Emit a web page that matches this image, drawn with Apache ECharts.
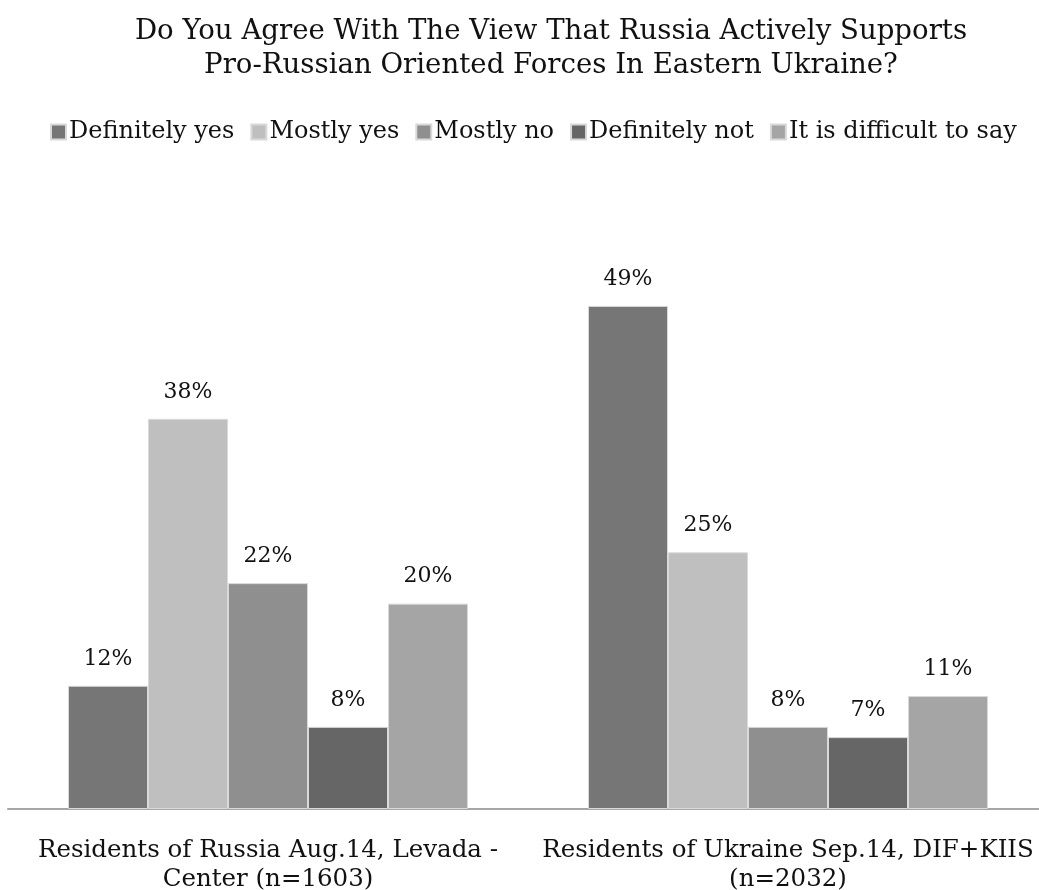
<!DOCTYPE html>
<html>
<head>
<meta charset="utf-8">
<script src="https://cdn.jsdelivr.net/npm/echarts@6/dist/echarts.min.js"></script>
<style>
html,body{margin:0;padding:0;background:#fff;}
#chart{width:1039px;height:890px;}
</style>
</head>
<body>
<div id="chart"></div>
<script>
const titleText = "Do You Agree With The View That Russia Actively Supports\nPro-Russian Oriented Forces In Eastern Ukraine?";
const categories = ["Residents of Russia Aug.14, Levada -\nCenter (n=1603)", "Residents of Ukraine Sep.14, DIF+KIIS\n(n=2032)"];
const seriesNames = ["Definitely yes", "Mostly yes", "Mostly no", "Definitely not", "It is difficult to say"];
const definitelyYes = [12, 49];
const mostlyYes = [38, 25];
const mostlyNo = [22, 8];
const definitelyNot = [8, 7];
const difficult = [20, 11];
const colors = ["#767676", "#bfbfbf", "#8f8f8f", "#666666", "#a5a5a5"];

const allValues = [definitelyYes, mostlyYes, mostlyNo, definitelyNot, difficult];
const serifA = "'DejaVu Serif', serif";

const chart = echarts.init(document.getElementById('chart'), null, {renderer: 'canvas'});
chart.setOption({
  animation: false,
  backgroundColor: '#ffffff',
  title: {
    text: titleText,
    left: 551,
    top: 15,
    padding: 0,
    textAlign: 'center',
    textStyle: {fontFamily: serifA, fontSize: 27.6, fontWeight: 'normal', color: '#111', lineHeight: 34}
  },
  legend: {
    top: 115,
    left: 45,
    itemWidth: 15,
    itemHeight: 15,
    itemGap: 16,
    icon: 'rect',
    textStyle: {fontFamily: serifA, fontSize: 24, color: '#111', padding: [0, 0, 0, -2]},
    data: seriesNames
  },
  grid: {left: 8, width: 1040, top: 193, bottom: 81, containLabel: false, outerBoundsMode: 'none'},
  xAxis: {
    type: 'category',
    data: categories,
    axisLine: {lineStyle: {color: '#a6a6a6', width: 2}},
    axisTick: {show: false},
    axisLabel: {margin: 27, fontFamily: serifA, fontSize: 24.5, lineHeight: 29, color: '#111', interval: 0}
  },
  yAxis: {type: 'value', min: 0, max: 60, show: false, splitLine: {show: false}},
  series: seriesNames.map((name, i) => ({
    name: name,
    type: 'bar',
    data: allValues[i],
    barWidth: 80,
    barGap: '0%',
    itemStyle: {color: colors[i], borderColor: '#d9d9d9', borderWidth: 1},
    label: {show: true, position: 'top', distance: 16, formatter: '{c}%', fontFamily: serifA, fontSize: 22, color: '#111'}
  }))
});
</script>
</body>
</html>
